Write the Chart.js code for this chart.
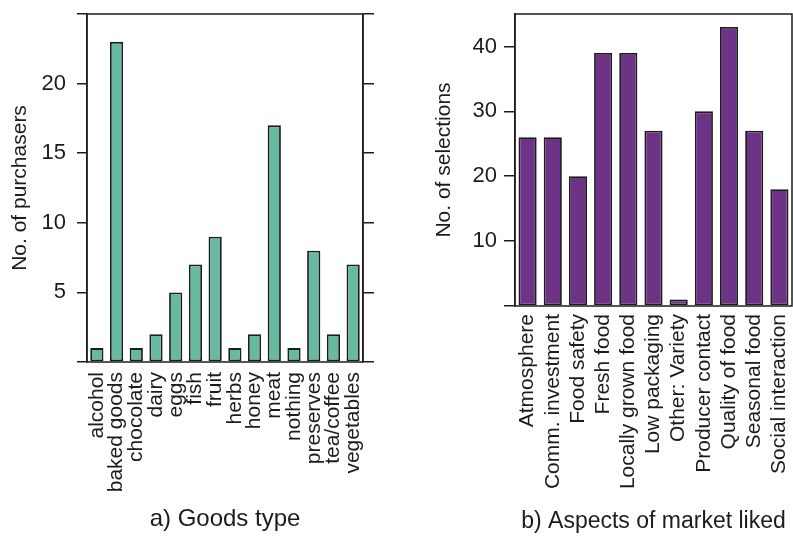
<!DOCTYPE html>
<html>
<head>
<meta charset="utf-8">
<script src="https://cdn.jsdelivr.net/npm/chart.js@4.4.1/dist/chart.umd.min.js"></script>
<style>
    body { margin: 0; background: #fff; }
    #wrapA { position: absolute; left: 0; top: 0; }
    #wrapB { position: absolute; left: 400px; top: 0; }
</style>
</head>
<body>
<div id="wrapA"><canvas id="goodsChart" width="385" height="536"></canvas></div>
<div id="wrapB"><canvas id="aspectsChart" width="393" height="536"></canvas></div>
<script>
let goodsLabels = ['alcohol', 'baked goods', 'chocolate', 'dairy', 'eggs', 'fish', 'fruit',
    'herbs', 'honey', 'meat', 'nothing', 'preserves', 'tea/coffee', 'vegetables'];
let goodsValues = [1, 23, 1, 2, 5, 7, 9, 1, 2, 17, 1, 8, 2, 7];
let goodsTicks = [0, 5, 10, 15, 20, 25];

let aspectLabels = ['Atmosphere', 'Comm. investment', 'Food safety', 'Fresh food', 'Locally grown food',
    'Low packaging', 'Other: Variety', 'Producer contact', 'Quality of food', 'Seasonal food', 'Social interaction'];
let aspectValues = [26, 26, 20, 39, 39, 27, 1, 30, 43, 27, 18];
let aspectTicks = [0, 10, 20, 30, 40];

const ink = '#1c1c1c';
const family = '"Liberation Sans", Arial, sans-serif';

// caja alrededor del area de dibujo
const framePlugin = {
    id: 'frame',
    afterDraw(chart) {
        const a = chart.chartArea;
        const ctx = chart.ctx;
        ctx.save();
        ctx.strokeStyle = ink;
        ctx.lineWidth = 1.5;
        ctx.strokeRect(a.left, a.top, a.right - a.left, a.bottom - a.top);
        ctx.restore();
    }
};

function fixedWidth(w) {
    return scale => {
        scale.width = w;
        scale.paddingTop = 0;
        scale.paddingBottom = 0;
    };
}

function fixedHeight(h) {
    return scale => {
        scale.height = h;
        scale.paddingLeft = 0;
        scale.paddingRight = 0;
    };
}

function yAxis(opts) {
    return {
        position: opts.position,
        min: 0,
        max: opts.max,
        afterBuildTicks: scale => { scale.ticks = opts.ticks.map(v => ({ value: v })); },
        afterFit: fixedWidth(opts.width),
        grid: {
            drawOnChartArea: false,
            drawTicks: true,
            tickLength: opts.tickLength,
            color: ink,
            lineWidth: 1.5
        },
        border: { display: true, color: ink, width: 1.5 },
        ticks: {
            color: ink,
            padding: opts.padding,
            font: { family: family, size: 22 },
            callback: v => (opts.hideLabels || v === 0 || v === opts.max) ? '' : v
        },
        title: {
            display: !!opts.title,
            text: opts.title,
            color: ink,
            font: { family: family, size: 21 },
            padding: { top: opts.titlePad, bottom: 0 }
        }
    };
}

function buildChart(id, cfg) {
    return new Chart(document.getElementById(id), {
        type: 'bar',
        data: {
            labels: cfg.labels,
            datasets: [{
                data: cfg.values,
                backgroundColor: cfg.color,
                borderColor: ink,
                borderWidth: 1.8,
                borderSkipped: false,
                categoryPercentage: 1,
                barPercentage: cfg.barPct
            }]
        },
        options: {
            responsive: false,
            animation: false,
            devicePixelRatio: 1,
            layout: { padding: { top: 14, right: cfg.padRight, left: 0, bottom: 0 } },
            plugins: {
                legend: { display: false },
                tooltip: { enabled: false }
            },
            scales: cfg.scales
        },
        plugins: [framePlugin]
    });
}

buildChart('goodsChart', {
    labels: goodsLabels,
    values: goodsValues,
    color: '#67b9a2',
    barPct: 0.67,
    padRight: 0,
    scales: {
        x: {
            afterFit: fixedHeight(536 - 362),
            grid: { display: false, drawTicks: false },
            border: { display: false },
            ticks: {
                autoSkip: false,
                maxRotation: 90,
                minRotation: 90,
                padding: 10,
                color: ink,
                font: { family: family, size: 21 }
            },
            title: {
                display: true,
                text: 'a) Goods type',
                color: ink,
                font: { family: family, size: 24 },
                padding: { top: 0, bottom: 2 }
            }
        },
        y: yAxis({ position: 'left', max: 25, ticks: goodsTicks, width: 87, tickLength: 10,
            padding: 11, title: 'No. of purchasers', titlePad: 8 }),
        y2: yAxis({ position: 'right', max: 25, ticks: goodsTicks, width: 385 - 363, tickLength: 11,
            padding: 0, hideLabels: true, titlePad: 0 })
    }
});

buildChart('aspectsChart', {
    labels: aspectLabels,
    values: aspectValues,
    color: '#6e3287',
    barPct: 0.72,
    padRight: 1,
    scales: {
        x: {
            afterFit: fixedHeight(536 - 306),
            grid: { display: false, drawTicks: false },
            border: { display: false },
            ticks: {
                autoSkip: false,
                maxRotation: 90,
                minRotation: 90,
                padding: 8,
                color: ink,
                font: { family: family, size: 21 }
            },
            title: {
                display: true,
                text: 'b) Aspects of market liked',
                color: ink,
                font: { family: family, size: 23 },
                padding: { top: 0, bottom: 1 }
            }
        },
        y: yAxis({ position: 'left', max: 45, ticks: aspectTicks, width: 115, tickLength: 11,
            padding: 7, title: 'No. of selections', titlePad: 32 })
    }
});
</script>
</body>
</html>
